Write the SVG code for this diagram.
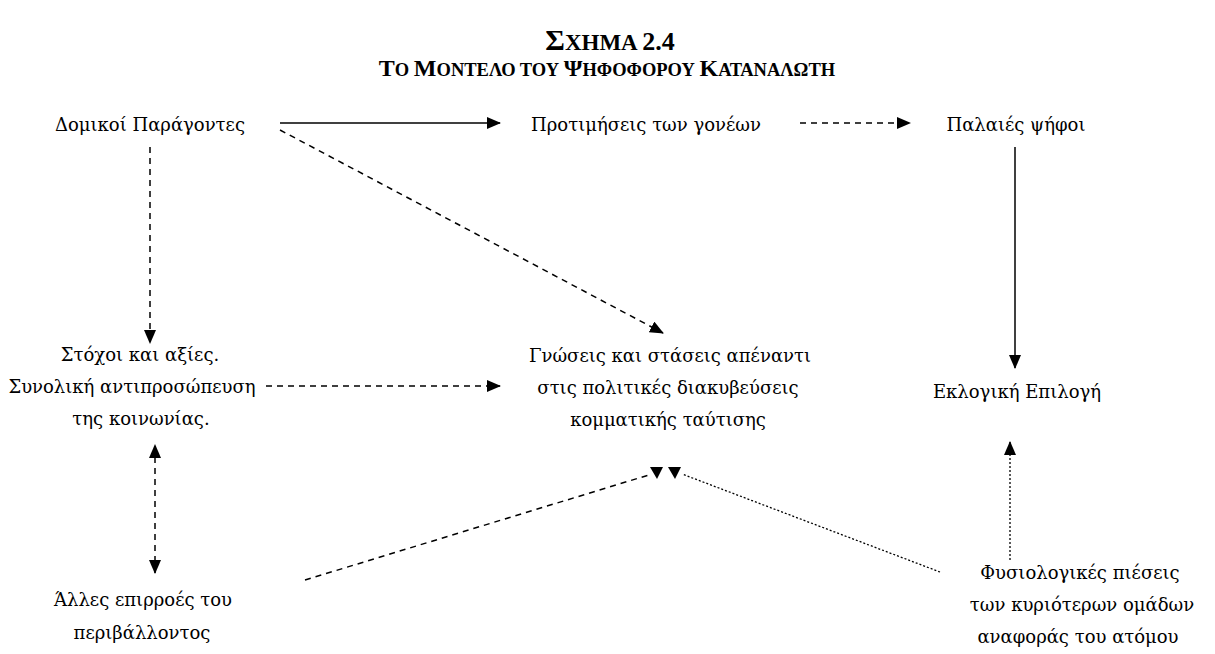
<svg xmlns="http://www.w3.org/2000/svg" width="1215" height="654" viewBox="0 0 1215 654">
<style>
text{font-family:"DejaVu Serif","Liberation Serif",serif;fill:#000;}
.n{font-size:18px;text-anchor:middle;}
.t{text-anchor:middle;font-family:"Liberation Serif","DejaVu Serif",serif;font-weight:bold;}
.c{fill:none;stroke:#000;stroke-width:1.5;}
.d{stroke-dasharray:6 5;}
.o{stroke-dasharray:2 2;stroke-width:1.3;}
</style>
<defs>
<marker id="ah" markerWidth="14" markerHeight="12" refX="13" refY="6" orient="auto" markerUnits="userSpaceOnUse">
<path d="M0,0 L14,6 L0,12 Z" fill="#000"/>
</marker>
<marker id="ahs" markerWidth="14" markerHeight="12" refX="1" refY="6" orient="auto-start-reverse" markerUnits="userSpaceOnUse">
<path d="M0,0 L14,6 L0,12 Z" fill="#000"/>
</marker>
</defs>
<rect width="1215" height="654" fill="#fff"/>
<g id="title">
<text class="t" x="610" y="50" font-size="30"><tspan>Σ</tspan><tspan font-size="23">ΧΗΜΑ </tspan><tspan font-size="26">2.4</tspan></text>
<text class="t" x="607" y="76" font-size="24"><tspan>Τ</tspan><tspan font-size="18.5">Ο </tspan><tspan>Μ</tspan><tspan font-size="18.5">ΟΝΤΕΛΟ ΤΟΥ </tspan><tspan>Ψ</tspan><tspan font-size="18.5">ΗΦΟΦΟΡΟΥ </tspan><tspan>Κ</tspan><tspan font-size="18.5">ΑΤΑΝΑΛΩΤΗ</tspan></text>
</g>
<g id="connectors">
<line class="c" x1="280" y1="123" x2="500" y2="123" marker-end="url(#ah)"/>
<line class="c d" x1="800" y1="123" x2="910" y2="123" marker-end="url(#ah)"/>
<line class="c" x1="1015" y1="147" x2="1015" y2="368" marker-end="url(#ah)"/>
<line class="c d" x1="150" y1="147" x2="150" y2="343" marker-end="url(#ah)"/>
<line class="c d" x1="280" y1="130" x2="663" y2="333" marker-end="url(#ah)"/>
<line class="c d" x1="266" y1="386" x2="500" y2="386" marker-end="url(#ah)"/>
<line class="c d" x1="155" y1="457" x2="155" y2="573" marker-start="url(#ahs)" marker-end="url(#ah)"/>
<line class="c d" x1="305" y1="580" x2="652" y2="474"/>
<line class="c o" x1="940" y1="572" x2="682" y2="474"/>
<line class="c o" x1="1010" y1="560" x2="1010" y2="442" marker-end="url(#ah)"/>
<polygon points="650,467 663,467 657,479" fill="#000"/>
<polygon points="668,467 681,467 675,479" fill="#000"/>
</g>
<g id="n1"><text class="n" x="150" y="131">Δομικοί Παράγοντες</text></g>
<g id="n2"><text class="n" x="646" y="131">Προτιμήσεις των γονέων</text></g>
<g id="n3"><text class="n" x="1016" y="131">Παλαιές ψήφοι</text></g>
<g id="n4"><text class="n" x="140" y="361">Στόχοι και αξίες.</text><text class="n" x="132" y="393">Συνολική αντιπροσώπευση</text><text class="n" x="141" y="425">της κοινωνίας.</text></g>
<g id="n5"><text class="n" x="670" y="362">Γνώσεις και στάσεις απέναντι</text><text class="n" x="668" y="394">στις πολιτικές διακυβεύσεις</text><text class="n" x="668" y="426">κομματικής ταύτισης</text></g>
<g id="n6"><text class="n" x="1017" y="398">Εκλογική Επιλογή</text></g>
<g id="n7"><text class="n" x="143" y="606">Άλλες επιρροές του</text><text class="n" x="142" y="639">περιβάλλοντος</text></g>
<g id="n8"><text class="n" x="1080" y="579">Φυσιολογικές πιέσεις</text><text class="n" x="1082" y="611">των κυριότερων ομάδων</text><text class="n" x="1078" y="643">αναφοράς του ατόμου</text></g>
</svg>
